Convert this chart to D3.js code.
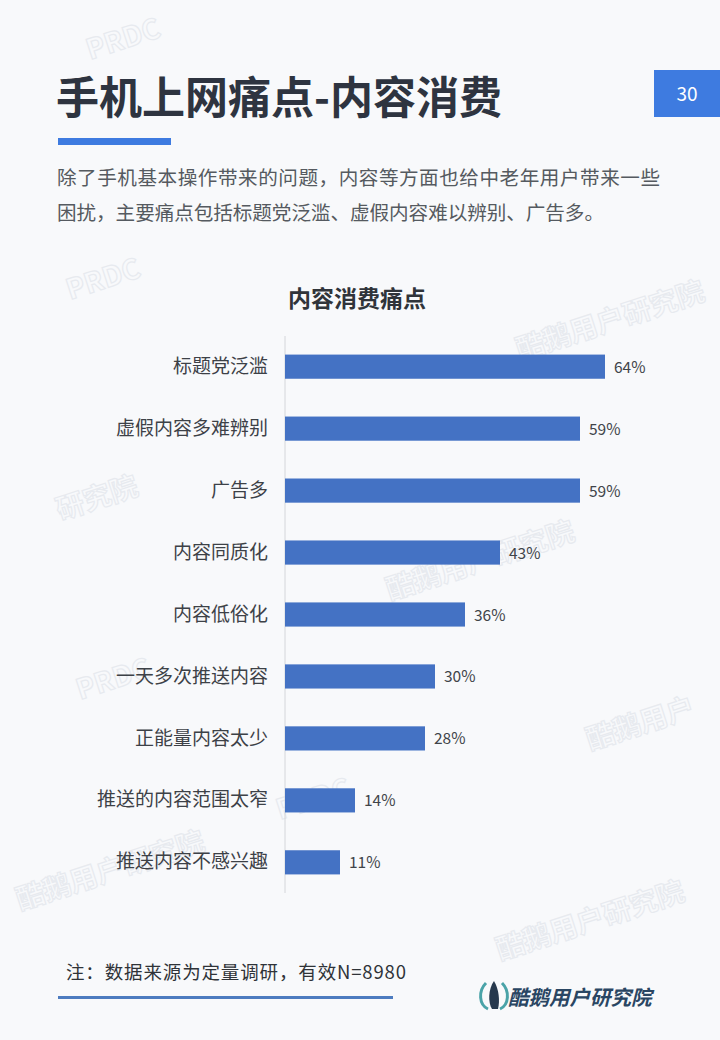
<html>
<head>
<meta charset="utf-8">
<title>手机上网痛点-内容消费</title>
<style>
  body { margin: 0; background: #f8f9fb; }
  svg { display: block; font-family: "Noto Sans CJK SC", "Noto Sans", sans-serif; }
</style>
</head>
<body>
<div id="chart"></div>
<script src="https://cdnjs.cloudflare.com/ajax/libs/d3/7.8.5/d3.min.js"></script>
<script>
  // data
  const categories = ["标题党泛滥", "虚假内容多难辨别", "广告多", "内容同质化", "内容低俗化",
                      "一天多次推送内容", "正能量内容太少", "推送的内容范围太窄", "推送内容不感兴趣"]
  const values = [64, 59, 59, 43, 36, 30, 28, 14, 11]
  const titleText = "手机上网痛点-内容消费"
  const pageNo = "30"
  const intro = ["除了手机基本操作带来的问题，内容等方面也给中老年用户带来一些",
                 "困扰，主要痛点包括标题党泛滥、虚假内容难以辨别、广告多。"]
  const chartTitle = "内容消费痛点"
  const note = "注：数据来源为定量调研，有效N=8980"
  const brand = "酷鹅用户研究院"

  const W = 720, H = 1040
  const svg = d3.select("#chart").append("svg")
    .attr("width", W).attr("height", H)

  svg.append("rect").attr("width", W).attr("height", H).attr("fill", "#f8f9fb")

  // faint watermarks
  const marks = [[90, 60, "PRDC"], [70, 300, "PRDC"], [520, 360, brand], [60, 520, "研究院"],
                 [390, 600, brand], [80, 700, "PRDC"], [590, 750, "酷鹅用户"], [280, 820, "PRDC"],
                 [20, 910, brand], [500, 960, brand]]
  svg.selectAll("text.wm").data(marks).join("text")
    .attr("class", "wm")
    .attr("transform", d => `translate(${d[0]},${d[1]}) rotate(-18)`)
    .attr("font-size", 28).attr("font-weight", 700)
    .attr("fill", "none").attr("stroke", "#e7eaef").attr("stroke-width", 1.2)
    .text(d => d[2])

  // header
  svg.append("text").attr("x", 56).attr("y", 114)
    .attr("font-size", 44).attr("font-weight", 700).attr("fill", "#2e3440")
    .attr("textLength", 446).attr("lengthAdjust", "spacingAndGlyphs")
    .text(titleText)
  svg.append("rect").attr("x", 654).attr("y", 70).attr("width", 66).attr("height", 47).attr("fill", "#3e7be0")
  svg.append("text").attr("x", 687).attr("y", 101).attr("text-anchor", "middle")
    .attr("font-size", 19).attr("fill", "#fff").text(pageNo)
  svg.append("rect").attr("x", 58).attr("y", 138).attr("width", 113).attr("height", 7).attr("fill", "#3e7be0")

  const introLen = [603, 547]
  svg.selectAll("text.intro").data(intro).join("text")
    .attr("class", "intro")
    .attr("x", 57).attr("y", (d, i) => 185 + i * 35)
    .attr("font-size", 19.6).attr("fill", "#555a60")
    .attr("textLength", (d, i) => introLen[i]).attr("lengthAdjust", "spacing")
    .text(d => d)

  svg.append("text").attr("x", 357).attr("y", 307).attr("text-anchor", "middle")
    .attr("font-size", 23).attr("font-weight", 700).attr("fill", "#30343a")
    .text(chartTitle)

  // chart
  const x = d3.scaleLinear().domain([0, 64]).range([285, 605])
  const y = d3.scaleBand().domain(categories).range([336, 893]).paddingInner(0.61).paddingOuter(0.3)

  svg.append("line").attr("x1", x(0)).attr("x2", x(0)).attr("y1", 336).attr("y2", 893)
    .attr("stroke", "#d4d6da").attr("stroke-width", 1)

  svg.selectAll("rect.bar").data(values).join("rect")
    .attr("class", "bar")
    .attr("x", x(0))
    .attr("y", (d, i) => y(categories[i]))
    .attr("width", d => x(d) - x(0))
    .attr("height", y.bandwidth())
    .attr("fill", "#4472c4")

  svg.selectAll("text.val").data(values).join("text")
    .attr("class", "val")
    .attr("x", d => x(d) + 9)
    .attr("y", (d, i) => y(categories[i]) + y.bandwidth() / 2 + 6)
    .attr("font-size", 15.5).attr("fill", "#404449")
    .text(d => d + "%")

  const yAxis = d3.axisLeft(y).tickSize(0).tickPadding(17)
  const ax = svg.append("g").attr("transform", `translate(${x(0)},0)`).call(yAxis)
  ax.select(".domain").remove()
  ax.selectAll("text").attr("font-size", 19).attr("fill", "#3d4147")
    .attr("font-family", "'Noto Sans CJK SC', sans-serif")

  // footer
  svg.append("text").attr("x", 66).attr("y", 979)
    .attr("font-size", 18.5).attr("fill", "#2f3338")
    .attr("textLength", 340).attr("lengthAdjust", "spacing")
    .text(note)
  svg.append("rect").attr("x", 58).attr("y", 996).attr("width", 335).attr("height", 3).attr("fill", "#4d7cc0")

  const logo = svg.append("g").attr("transform", "translate(482,997)")
  logo.append("path").attr("d", "M4,-14 C-4,-6 -3,8 6,12 M20,-14 C28,-6 27,8 18,12")
    .attr("fill", "none").attr("stroke", "#4aa3a8").attr("stroke-width", 3)
  logo.append("path").attr("d", "M12,-16 C6,-8 6,6 10,12 L16,12 C18,4 17,-8 12,-16 Z")
    .attr("fill", "#26384d")
  svg.append("text").attr("x", 508).attr("y", 1005)
    .attr("font-size", 20.5).attr("font-weight", 700).attr("font-style", "italic")
    .attr("fill", "#2a4663").text(brand)
</script>
</body>
</html>
